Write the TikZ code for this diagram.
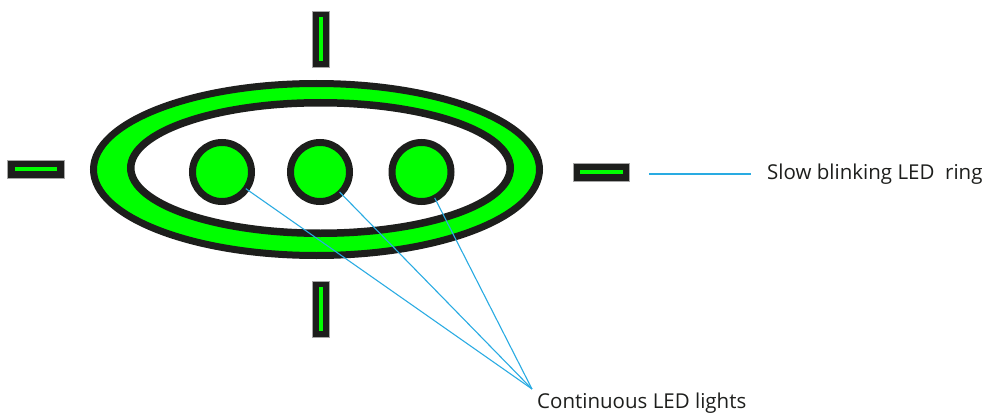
\documentclass[tikz,border=0pt]{standalone}
\usepackage{fontspec}
\setmainfont{Open Sans}
\usetikzlibrary{calc}
\definecolor{ledgreen}{RGB}{0,255,0}
\definecolor{darkfill}{RGB}{29,30,28}
\definecolor{callout}{RGB}{41,171,226}
\tikzset{
  x=1pt, y=-1pt,
  ledcircle/.style={circle, draw=darkfill, fill=ledgreen, line width=7pt, minimum size=59pt, inner sep=0pt},
  barbox/.style={fill=darkfill, draw=gray!70, line width=0.4pt},
  barled/.style={fill=ledgreen},
  pointer/.style={draw=callout, line width=1.1pt},
  caption/.style={font=\fontsize{20.5}{24}\selectfont, text=darkfill, inner sep=0pt, anchor=base west}
}
\begin{document}
\begin{tikzpicture}
\useasboundingbox (0,0) rectangle (987,417);
% outer ring
\draw[draw=darkfill, fill=ledgreen, line width=7pt] (316.5,169.5) ellipse [x radius=223, y radius=86];
\draw[draw=darkfill, fill=white, line width=7.5pt] (320.5,168) ellipse [x radius=189.75, y radius=65.25];
% bars
\fill[barbox] (312,11) rectangle (329,67);
\fill[barled] (319,17) rectangle (323,61);
\fill[barbox] (312,281) rectangle (329,337);
\fill[barled] (319,287) rectangle (323,331);
\fill[barbox] (7,160) rectangle (64,178);
\fill[barled] (15,167) rectangle (57,171);
\fill[barbox] (573,163) rectangle (629,181);
\fill[barled] (580,170) rectangle (623,174);
% LEDs
\node[ledcircle] (c1) at (222,172) {};
\node[ledcircle] (c2) at (320,172) {};
\node[ledcircle] (c3) at (421.5,172) {};
% captions
\node[caption] (cont) at (537,408) {Continuous LED lights};
\node[caption] (slow) at (767,179) {Slow blinking LED\ \ ring};
% connectors
\coordinate (p) at (532,389);
\coordinate (r0) at (649,174);
\coordinate (r1) at (751,174);
\draw[pointer] ($(c1.center)!29pt!(p)$) -- (p);
\draw[pointer] ($(c2.center)!28pt!(p)$) -- (p);
\draw[pointer] ($(c3.center)!29pt!(p)$) -- (p);
\draw[pointer] (r0) -- (r1);
\end{tikzpicture}
\end{document}
